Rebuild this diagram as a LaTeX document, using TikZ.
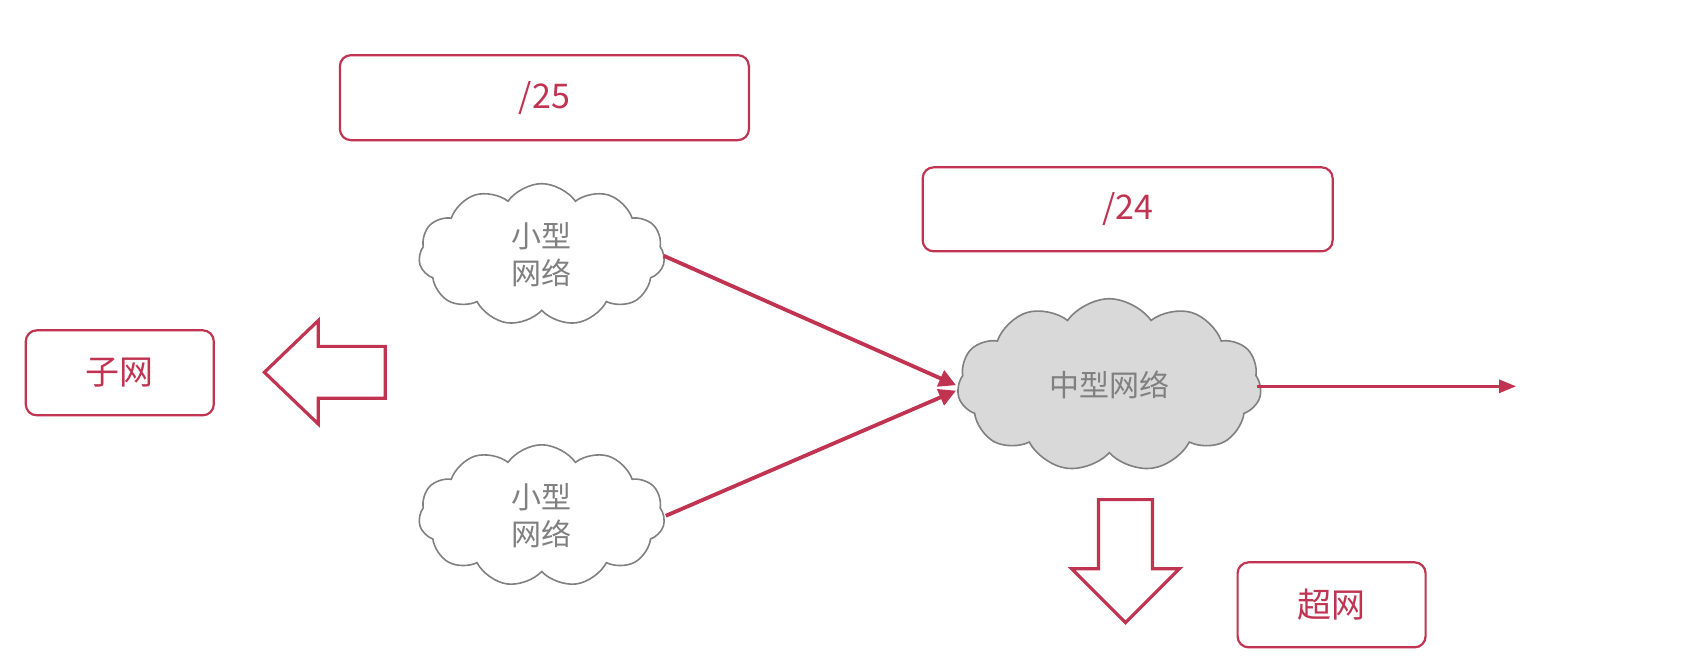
\documentclass[tikz,border=0pt]{standalone}
\usepackage{fontspec}
\setmainfont{Noto Sans CJK SC}
\usetikzlibrary{shapes.symbols,arrows.meta}
\definecolor{cr}{RGB}{192,52,82}
\definecolor{gt}{RGB}{128,128,128}
\definecolor{cl}{RGB}{217,217,217}
\begin{document}
\begin{tikzpicture}[x=1.0791pt,y=-1.0791pt,
  lbl/.style={draw=cr,line width=2.2pt,rounded corners=11pt,text=cr,font=\fontsize{34}{38}\selectfont,inner sep=0pt},
  cloudn/.style={cloud,cloud puffs=11,cloud puff arc=110,draw=gt,line width=1.6pt,text=gt,font=\fontsize{30}{37}\selectfont,align=center,inner sep=0pt,aspect=1.7},
  conn/.style={draw=cr,line width=3.8pt,-{Triangle[length=17pt,width=17pt]}},
  blk/.style={draw=cr,line width=3.2pt,fill=white,line join=miter}]
\useasboundingbox (0,0) rectangle (1568,617.2);
\node[lbl,minimum width=409pt,minimum height=85pt] (b25) at (504.5,90.5) {/25};
\node[lbl,minimum width=410pt,minimum height=84pt] (b24) at (1045,194) {/24};
\node[lbl,minimum width=188pt,minimum height=85pt] (bsub) at (111,345.5) {子网};
\node[lbl,minimum width=188pt,minimum height=85pt] (bsup) at (1234,560.5) {超网};
\node[cloudn,minimum width=246pt,minimum height=142pt] (s1) at (502,236) {小型\\网络};
\node[cloudn,minimum width=246pt,minimum height=142pt] (s2) at (502,478) {小型\\网络};
\node[cloudn,fill=cl,minimum width=304pt,minimum height=173pt] (m) at (1028,357) {中型网络};
\coordinate (mt1) at (886,357);
\coordinate (mt2) at (886,362);
\coordinate (s1r) at (615,237);
\coordinate (s2r) at (617,478);
\coordinate (mr) at (1165,358);
\coordinate (out) at (1405,358);
\draw[conn] (s1r) -- (mt1);
\draw[conn] (s2r) -- (mt2);
\draw[draw=cr,line width=2.7pt,-{Triangle[length=17pt,width=13pt]}] (mr) -- (out);
\draw[blk] (245,345) -- (295,297) -- (295,321) -- (357,321) -- (357,369) -- (295,369) -- (295,393) -- cycle;
\draw[blk] (1043,577) -- (993,527) -- (1018,527) -- (1018,463) -- (1068,463) -- (1068,527) -- (1093,527) -- cycle;
\end{tikzpicture}
\end{document}
